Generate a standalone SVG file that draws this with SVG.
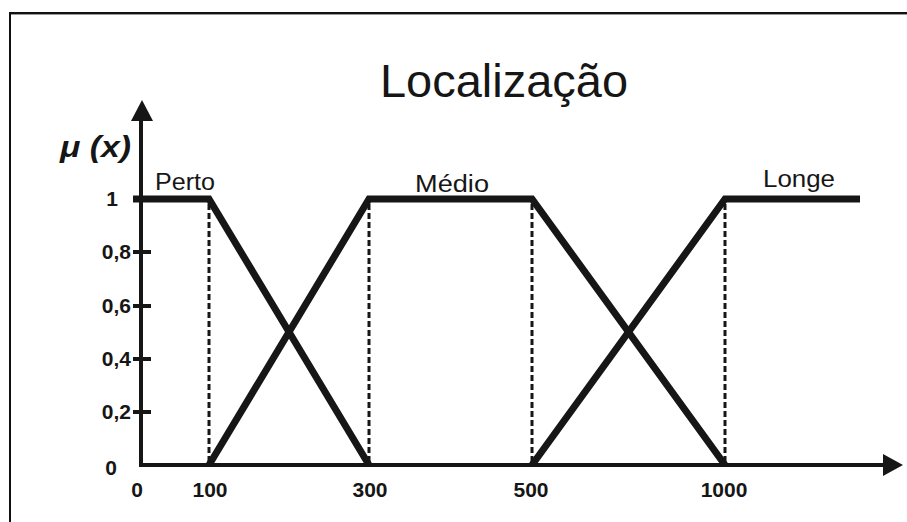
<svg xmlns="http://www.w3.org/2000/svg" width="907" height="522" viewBox="0 0 907 522">
<style>
.ax{stroke:#161616;stroke-width:4;fill:none}
.mf{stroke:#161616;stroke-width:7;fill:none;stroke-linejoin:miter}
.dash{stroke:#161616;stroke-width:3;stroke-dasharray:6 3;fill:none}
.tk{font-family:"Liberation Sans",Arial,sans-serif;font-weight:bold;font-size:21px;fill:#161616}
.lb{font-family:"Liberation Sans",Arial,sans-serif;font-size:23px;fill:#161616}
</style>
<rect width="907" height="522" fill="#fff"/>
<g id="frame">
<line x1="9" y1="13" x2="907" y2="13" stroke="#111" stroke-width="2"/>
<line x1="9" y1="14.5" x2="907" y2="14.5" stroke="#999" stroke-width="1"/>
<line x1="10" y1="12" x2="10" y2="522" stroke="#111" stroke-width="2"/>
</g>
<g id="title">
<text x="380" y="97" font-family="Liberation Sans,Arial,sans-serif" font-size="46" fill="#161616" textLength="248" lengthAdjust="spacingAndGlyphs">Localização</text>
</g>
<g id="axes">
<line class="ax" x1="141" y1="118" x2="141" y2="467"/>
<polygon points="131,121 142,100 153,121" fill="#161616"/>
<line class="ax" x1="139" y1="465" x2="886" y2="465"/>
<polygon points="883,454 903,465 883,476" fill="#161616"/>
<g class="ax">
<line x1="133" y1="252" x2="151" y2="252"/>
<line x1="133" y1="306" x2="151" y2="306"/>
<line x1="133" y1="359" x2="151" y2="359"/>
<line x1="133" y1="412" x2="151" y2="412"/>
</g>
<text x="60" y="157" font-family="Liberation Sans,Arial,sans-serif" font-size="29" font-weight="bold" font-style="italic" fill="#161616" textLength="71" lengthAdjust="spacingAndGlyphs">μ (x)</text>
</g>
<g id="ylabels" class="tk">
<text x="112" y="206" text-anchor="middle">1</text>
<text x="131" y="259" text-anchor="end">0,8</text>
<text x="131" y="313" text-anchor="end">0,6</text>
<text x="131" y="366" text-anchor="end">0,4</text>
<text x="131" y="419" text-anchor="end">0,2</text>
<text x="111" y="475" text-anchor="middle">0</text>
</g>
<g id="xlabels" class="tk">
<text x="137" y="497" text-anchor="middle">0</text>
<text x="210" y="497" text-anchor="middle">100</text>
<text x="370" y="497" text-anchor="middle">300</text>
<text x="531" y="497" text-anchor="middle">500</text>
<text x="724" y="497" text-anchor="middle">1000</text>
</g>
<g id="guides">
<line class="dash" x1="209" y1="204" x2="209" y2="463"/>
<line class="dash" x1="369" y1="204" x2="369" y2="463"/>
<line class="dash" x1="532" y1="204" x2="532" y2="463"/>
<line class="dash" x1="725" y1="204" x2="725" y2="463"/>
</g>
<g id="perto">
<polyline class="mf" points="133,199 209,199 369,465"/>
<text class="lb" x="155" y="190" textLength="60" lengthAdjust="spacingAndGlyphs">Perto</text>
</g>
<g id="medio">
<polyline class="mf" points="209,465 369,199 532,199 725,465"/>
<text class="lb" x="415" y="192" textLength="74" lengthAdjust="spacingAndGlyphs">Médio</text>
</g>
<g id="longe">
<polyline class="mf" points="532,465 725,199 860,199"/>
<text class="lb" x="763" y="187" textLength="72" lengthAdjust="spacingAndGlyphs">Longe</text>
</g>
</svg>
